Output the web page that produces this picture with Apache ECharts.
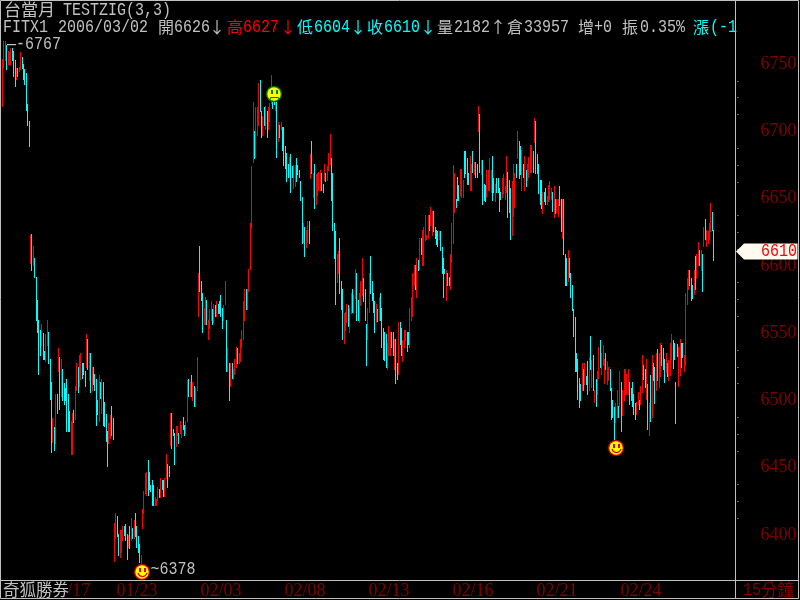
<!DOCTYPE html>
<html lang="zh-Hant">
<head>
    <meta charset="UTF-8">
    <title>TESTZIG</title>
    <script src="https://cdn.jsdelivr.net/npm/echarts@6/dist/echarts.min.js"></script>
    <style>
        html, body { margin: 0; padding: 0; background: #000; }
    </style>
</head>
<body>
<div id="main" style="width: 800px;height: 600px"></div>
<script>
    // 15 min bars
    var highs = [
        6754,6767,6767,6764,6760,6759,6762,6762,6760,6753,
        6747,6747,6748,6759,6755,6750,6746,6743,6720,6708,
        6623,6624,6615,6606,6592,6575,6560,6552,6557,6550,
        6537,6549,6560,6551,6531,6514,6487,6480,6505,6505,
        6539,6532,6531,6523,6513,6509,6516,6505,6492,6485,
        6491,6493,6511,6528,6525,6534,6535,6528,6528,6522,
        6549,6546,6535,6535,6525,6525,6520,6516,6500,6519,
        6514,6516,6514,6499,6490,6477,6483,6489,6496,6487,
        6409,6416,6414,6401,6404,6404,6407,6407,6408,6401,
        6400,6407,6413,6405,6411,6416,6407,6399,6393,6385,
        6419,6433,6446,6447,6456,6447,6437,6441,6437,6428,
        6427,6436,6434,6442,6441,6441,6442,6460,6453,6451,
        6491,6491,6479,6476,6481,6481,6476,6485,6482,6488,
        6482,6485,6515,6516,6514,6519,6514,6511,6509,6532,
        6595,6615,6589,6580,6569,6577,6575,6560,6568,6574,
        6568,6572,6571,6574,6572,6574,6578,6569,6571,6589,
        6560,6539,6528,6528,6528,6523,6531,6540,6539,6535,
        6546,6552,6574,6583,6583,6583,6598,6632,6674,6722,
        6700,6718,6718,6736,6738,6715,6711,6718,6719,6715,
        6718,6721,6742,6722,6726,6722,6722,6707,6705,6707,
        6703,6703,6689,6684,6676,6681,6683,6674,6675,6675,
        6680,6675,6671,6663,6651,6632,6629,6627,6633,6633,
        6683,6693,6669,6676,6668,6669,6670,6671,6669,6661,
        6676,6669,6674,6684,6698,6680,6669,6632,6626,6609,
        6611,6621,6589,6583,6565,6566,6572,6571,6569,6580,
        6583,6578,6598,6595,6575,6580,6589,6606,6591,6583,
        6557,6569,6595,6607,6589,6580,6574,6572,6568,6577,
        6580,6569,6554,6551,6549,6543,6555,6551,6551,6551,
        6546,6546,6528,6558,6558,6554,6545,6552,6552,6551,
        6551,6569,6577,6595,6601,6601,6606,6604,6621,6621,
        6627,6629,6638,6623,6638,6638,6644,6641,6641,6629,
        6627,6626,6626,6626,6614,6606,6598,6597,6595,6592,
        6609,6632,6675,6669,6650,6666,6660,6672,6672,6664,
        6685,6685,6680,6669,6682,6676,6685,6677,6677,6676,
        6719,6713,6679,6679,6661,6660,6671,6671,6680,6671,
        6682,6665,6661,6665,6665,6658,6655,6665,6668,6659,
        6682,6670,6664,6658,6663,6676,6669,6676,6700,6693,
        6689,6686,6676,6682,6671,6676,6681,6690,6690,6685,
        6710,6708,6683,6676,6664,6664,6655,6655,6658,6652,
        6660,6663,6658,6655,6659,6650,6650,6650,6659,6650,
        6650,6650,6609,6606,6612,6606,6595,6586,6568,6562,
        6535,6531,6517,6512,6528,6523,6528,6518,6529,6532,
        6548,6530,6534,6508,6516,6522,6540,6545,6535,6541,
        6531,6535,6529,6525,6523,6509,6500,6495,6498,6508,
        6496,6522,6514,6508,6523,6523,6520,6523,6514,6509,
        6514,6505,6498,6499,6506,6500,6511,6534,6526,6523,
        6531,6512,6498,6519,6534,6528,6525,6535,6538,6535,
        6543,6541,6539,6531,6535,6528,6530,6543,6549,6545,
        6543,6514,6542,6540,6546,6543,6543,6534,6580,6591,
        6597,6597,6591,6586,6597,6607,6609,6618,6612,6612,
        6609,6629,6635,6627,6626,6632,6647,6640,6627
    ];
    var lows = [
        6719,6747,6753,6746,6750,6749,6750,6753,6741,6734,
        6739,6741,6745,6746,6747,6739,6735,6716,6705,6689,
        6602,6597,6601,6592,6560,6551,6520,6534,6541,6531,
        6531,6529,6541,6528,6501,6462,6469,6463,6468,6491,
        6522,6494,6503,6500,6497,6500,6477,6477,6477,6460,
        6460,6484,6486,6508,6506,6511,6516,6517,6520,6511,
        6525,6523,6515,6506,6508,6512,6508,6482,6490,6485,
        6502,6491,6482,6481,6470,6451,6468,6472,6474,6471,
        6381,6398,6399,6385,6384,6387,6396,6400,6396,6382,
        6391,6390,6396,6398,6398,6399,6391,6387,6380,6378,
        6405,6416,6431,6430,6430,6434,6433,6422,6422,6422,
        6422,6426,6428,6428,6434,6429,6429,6442,6436,6444,
        6467,6465,6474,6453,6466,6474,6468,6476,6473,6479,
        6474,6476,6485,6503,6503,6503,6500,6496,6496,6508,
        6563,6581,6575,6551,6557,6557,6557,6546,6554,6560,
        6557,6558,6563,6563,6565,6565,6563,6554,6560,6572,
        6522,6522,6500,6511,6517,6516,6520,6525,6528,6528,
        6529,6540,6546,6560,6568,6568,6581,6598,6629,6677,
        6680,6681,6697,6705,6715,6696,6697,6705,6702,6696,
        6702,6708,6721,6717,6720,6716,6681,6693,6696,6702,
        6686,6675,6673,6663,6666,6666,6655,6666,6658,6659,
        6663,6668,6666,6649,6617,6618,6607,6614,6618,6617,
        6665,6669,6651,6643,6646,6653,6656,6656,6656,6655,
        6664,6663,6664,6671,6676,6649,6627,6606,6572,6588,
        6595,6580,6568,6546,6543,6552,6558,6555,6551,6565,
        6566,6565,6576,6560,6560,6558,6571,6578,6574,6560,
        6526,6546,6566,6580,6575,6566,6551,6558,6559,6560,
        6560,6540,6531,6530,6525,6523,6534,6534,6540,6534,
        6523,6513,6516,6520,6542,6534,6529,6540,6545,6537,
        6542,6540,6560,6563,6586,6583,6577,6597,6598,6609,
        6601,6601,6619,6620,6621,6627,6630,6623,6626,6621,
        6616,6615,6620,6612,6595,6577,6595,6575,6586,6586,
        6583,6603,6617,6640,6644,6649,6649,6653,6651,6651,
        6666,6669,6661,6661,6656,6656,6670,6668,6666,6666,
        6700,6670,6668,6646,6649,6648,6651,6656,6656,6655,
        6649,6655,6648,6655,6655,6641,6650,6651,6654,6650,
        6655,6636,6640,6620,6623,6637,6644,6666,6680,6665,
        6668,6656,6666,6656,6659,6664,6666,6670,6670,6670,
        6692,6669,6669,6654,6646,6643,6639,6648,6646,6646,
        6648,6650,6650,6641,6636,6639,6640,6637,6645,6626,
        6621,6609,6586,6586,6589,6592,6577,6567,6548,6522,
        6522,6501,6495,6500,6508,6508,6512,6512,6505,6508,
        6523,6510,6508,6499,6496,6505,6517,6525,6520,6526,
        6513,6523,6512,6515,6508,6486,6488,6471,6484,6488,
        6488,6496,6477,6489,6500,6505,6505,6505,6497,6500,
        6496,6490,6486,6490,6497,6494,6497,6506,6516,6510,
        6501,6479,6474,6485,6488,6515,6498,6508,6515,6510,
        6518,6526,6523,6514,6521,6518,6515,6519,6531,6524,
        6531,6483,6533,6511,6519,6525,6532,6522,6526,6572,
        6583,6586,6575,6576,6579,6583,6591,6601,6601,6597,
        6581,6615,6620,6615,6617,6620,6626,6627,6604
    ];
    // bars drawn red, all others are cyan
    var redBars = [
        0,1,2,4,5,6,10,12,13,
        20,22,28,31,32,36,38,40,42,49,50,52,53,55,56,60,62,64,69,71,76,77,
        80,81,84,85,86,90,92,94,99,
        100,101,102,103,109,110,111,113,116,117,120,124,125,127,128,131,132,134,136,138,139,
        140,144,145,147,148,149,151,153,158,159,161,163,165,166,167,169,170,171,172,173,175,176,177,178,179,
        181,182,183,186,188,190,191,192,195,197,199,
        205,208,209,215,217,218,220,222,224,225,226,227,230,232,233,234,
        239,240,244,245,246,248,249,251,252,255,256,257,261,262,267,269,
        275,276,277,280,283,286,287,288,291,292,293,294,296,298,300,301,302,303,304,306,307,
        312,317,320,321,322,323,327,328,329,334,335,337,340,342,346,347,348,349,
        352,357,358,359,360,364,365,366,368,371,373,375,376,377,378,380,
        386,389,390,391,392,394,396,397,400,404,
        414,416,419,421,423,425,426,428,429,430,432,433,
        438,439,441,443,444,445,446,447,453,454,456,457,460,462,464,467,469,470,474,476,477,478,
        483,484,487,488,489,490,494,496,497,499,501,503,504,505,506
    ];
    var categoryCount = 524;
    var tickStep = 20;
    var lastTick = 500;
    var dateIdx = [32, 80, 140, 200, 260, 320, 380, 440];
    var dateText = ['01/17', '01/23', '02/03', '02/08', '02/13', '02/16', '02/21', '02/24'];
    // zigzag turning points: 0 frown, 1 smile
    var zigIdx = [100, 194, 438];
    var zigVal = [6372.5, 6728, 6465];
    var zigMood = [1, 0, 1];
    var peakIdx = [1, 100];
    var peakVal = [6767, 6378];
    var peakText = ['—-6767', '~6378'];
    var lastClose = 6610;

    var GRAY = '#c0c0c0', DARK = '#800000', RED = '#ff0000', CYAN = '#00ffff';
    var MONO = '"Liberation Mono", monospace', CJK = '"Noto Sans CJK TC", sans-serif';

    var categories = [];
    for (var i = 0; i < categoryCount; i++) categories.push(String(i));

    var barData = highs.map(function (h, i) {
        return [i, lows[i], h, redBars.indexOf(i) >= 0 ? 1 : 0];
    });

    // header text, each run placed on its own like the terminal does
    function mono(x, y, s, color) {
        return {type: 'text', x: x, y: y, scaleX: 0.833, z: 100,
            style: {text: s, fill: color, font: '18px ' + MONO, verticalAlign: 'middle'}};
    }
    function cjk(x, y, s, color, size) {
        return {type: 'text', x: x, y: y, z: 100,
            style: {text: s, fill: color, font: (size || 16) + 'px ' + CJK, verticalAlign: 'middle'}};
    }
    function arrow(x, y, up, color) {
        return cjk(x, y, up ? '↑' : '↓', color, 16);
    }
    function frameLine(x1, y1, x2, y2) {
        return {type: 'line', z: 90, shape: {x1: x1, y1: y1, x2: x2, y2: y2},
            style: {stroke: GRAY, lineWidth: 1}};
    }
    var y1 = 10, y2 = 27;
    var graphics = [
        frameLine(0.5, 0.5, 798.5, 0.5), frameLine(0.5, 0.5, 0.5, 598.5),
        frameLine(798.5, 0.5, 798.5, 598.5), frameLine(0.5, 598.5, 798.5, 598.5),
        frameLine(0.5, 580.5, 798.5, 580.5), frameLine(735.5, 0.5, 735.5, 598.5),
        {type: 'rect', z: 95, shape: {x: 1, y: 582, width: 68, height: 16}, style: {fill: '#000'}},
        cjk(3, 590, '奇狐勝券', GRAY, 16.5),
        cjk(761, 590, '分鐘', DARK, 16.5), mono(743, 590, '15', DARK),
        cjk(4, y1, '台當月', GRAY, 17), mono(63, y1, 'TESTZIG(3,3)', GRAY),
        mono(3, y2, 'FITX1', GRAY), mono(58, y2, '2006/03/02', GRAY),
        cjk(158, y2, '開', GRAY), mono(174, y2, '6626', GRAY), arrow(209, y2, false, GRAY),
        cjk(227, y2, '高', RED), mono(243, y2, '6627', RED), arrow(280, y2, false, RED),
        cjk(297, y2, '低', CYAN), mono(314, y2, '6604', CYAN), arrow(350, y2, false, CYAN),
        cjk(367, y2, '收', CYAN), mono(384, y2, '6610', CYAN), arrow(420, y2, false, CYAN),
        cjk(437, y2, '量', GRAY), mono(454, y2, '2182', GRAY), arrow(490, y2, true, GRAY),
        cjk(507, y2, '倉', GRAY), mono(524, y2, '33957', GRAY),
        cjk(578, y2, '增', GRAY), mono(594, y2, '+0', GRAY),
        cjk(622, y2, '振', GRAY), mono(640, y2, '0.35%', GRAY),
        cjk(693, y2, '漲', CYAN), mono(710, y2, '(-1', CYAN)
    ];

    // one pixel wide high-low stroke, snapped to the pixel grid
    function renderBar(params, api) {
        var top = api.coord([api.value(0), api.value(2)]);
        var bottom = api.coord([api.value(0), api.value(1)]);
        var yTop = Math.round(top[1]);
        return {
            type: 'rect',
            shape: {x: Math.floor(top[0]), y: yTop, width: 1, height: Math.round(bottom[1]) - yTop + 1},
            style: {fill: api.value(3) ? RED : CYAN}
        };
    }
    function renderFace(params, api) {
        var p = api.coord([api.value(0), api.value(1)]);
        var x = Math.round(p[0]), y = Math.round(p[1]);
        var smile = zigMood[params.dataIndex] === 1;
        var ink = smile ? '#e00000' : '#008000';
        return {type: 'group', children: [
            {type: 'circle', shape: {cx: x, cy: y, r: 8}, style: {fill: ink}},
            {type: 'circle', shape: {cx: x, cy: y, r: 6.7}, style: {fill: '#ffff00'}},
            {type: 'rect', shape: {x: x - 3, y: y - 4, width: 2, height: 4}, style: {fill: ink}},
            {type: 'rect', shape: {x: x + 2, y: y - 4, width: 2, height: 4}, style: {fill: ink}},
            smile
                ? {type: 'arc', shape: {cx: x + 0.5, cy: y, r: 4.5, startAngle: 0.2, endAngle: Math.PI - 0.2},
                    style: {stroke: ink, fill: null, lineWidth: 1.2}}
                : {type: 'polyline', shape: {points: [[x - 4, y + 5], [x - 3, y + 3.5], [x + 4, y + 3.5], [x + 5, y + 5]]},
                    style: {stroke: ink, fill: null, lineWidth: 1.2}}
        ]};
    }
    function renderPeakLabel(params, api) {
        var p = api.coord([api.value(0), api.value(1)]);
        var low = params.dataIndex === 1;
        return {type: 'text', x: low ? p[0] + 8 : p[0] + 3, y: p[1] + (low ? 5 : 3), scaleX: 0.833,
            style: {text: peakText[params.dataIndex], fill: GRAY, font: '18px ' + MONO, verticalAlign: 'middle'}};
    }
    function renderLastTag(params, api) {
        var y = Math.round(api.coord([0, api.value(1)])[1]) - 0.5;
        return {type: 'group', children: [
            {type: 'polygon', shape: {points: [[736, y], [744, y - 8], [797.5, y - 8], [797.5, y + 8], [744, y + 8]]},
                style: {fill: '#fffaf0'}},
            {type: 'text', x: 797, y: y, scaleX: 0.833,
                style: {text: String(api.value(1)), fill: RED, font: '18px ' + MONO, align: 'right', verticalAlign: 'middle'}}
        ]};
    }

    var myChart = echarts.init(document.getElementById('main'));
    var option = {
        animation: false,
        backgroundColor: '#000',
        graphic: {elements: graphics},
        grid: {left: 1.8, width: 733.6, top: 64, height: 471, outerBoundsMode: 'none'},
        xAxis: {
            type: 'category',
            data: categories,
            position: 'bottom',
            offset: 45.5,
            axisLine: {show: false},
            axisTick: {
                alignWithLabel: true,
                length: 5,
                interval: function (i) { return i % tickStep === 0 && i <= lastTick; },
                lineStyle: {color: GRAY}
            },
            axisLabel: {
                interval: function (i) { return dateIdx.indexOf(i) >= 0; },
                formatter: function (v, i) { return dateText[dateIdx.indexOf(i)] || ''; },
                color: DARK,
                fontFamily: '"Liberation Serif", serif',
                fontSize: 18,
                align: 'left',
                margin: 2,
                padding: [0, 0, 0, 2],
                hideOverlap: false
            },
            splitLine: {show: false}
        },
        yAxis: {
            type: 'value',
            position: 'right',
            min: 6400,
            max: 6750,
            interval: 50,
            axisLine: {show: false},
            axisTick: {length: 5, lineStyle: {color: GRAY}},
            minorTick: {show: true, splitNumber: 4, length: 3, lineStyle: {color: GRAY, type: [0, 2, 1, 50]}},
            axisLabel: {
                color: DARK,
                fontFamily: '"Liberation Serif", serif',
                fontSize: 18,
                margin: 25,
                formatter: function (v) { return String(v); }
            },
            splitLine: {show: false}
        },
        series: [
            {
                type: 'custom',
                renderItem: renderBar,
                clip: false,
                encode: {x: 0, y: [1, 2]},
                data: barData
            },
            {
                type: 'custom',
                renderItem: renderFace,
                z: 5,
                clip: false,
                encode: {x: 0, y: 1},
                data: zigIdx.map(function (x, i) { return [x, zigVal[i]]; })
            },
            {
                type: 'custom',
                renderItem: renderPeakLabel,
                z: 5,
                clip: false,
                encode: {x: 0, y: 1},
                data: peakIdx.map(function (x, i) { return [x, peakVal[i]]; })
            },
            {
                type: 'custom',
                renderItem: renderLastTag,
                z: 20,
                clip: false,
                encode: {x: 0, y: 1},
                data: [[0, lastClose]]
            }
        ]
    };
    myChart.setOption(option);
</script>
</body>
</html>
